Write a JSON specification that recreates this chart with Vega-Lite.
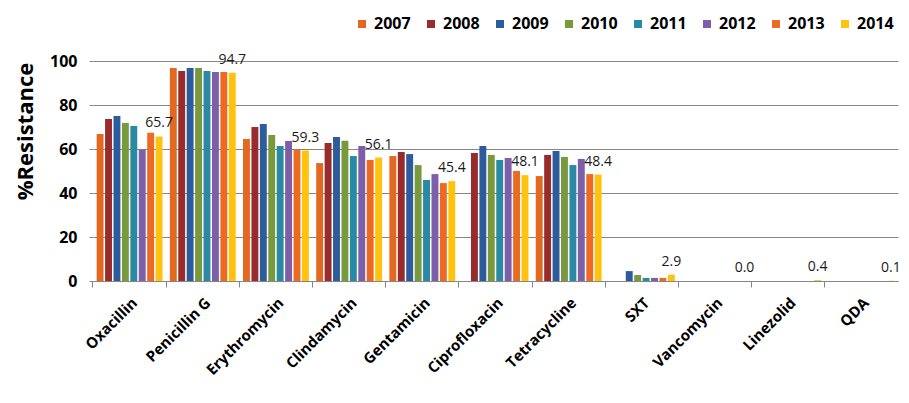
{
  "$schema": "https://vega.github.io/schema/vega-lite/v6.json",
  "width": 805,
  "height": 220,
  "autosize": {"type": "none"},
  "padding": {"left": 93, "top": 61, "right": 11, "bottom": 122},
  "background": "white",
  "config": {"font": "Open Sans", "view": {"stroke": null}},
  "data": {
    "values": [
      {"drug": "Oxacillin", "year": "2007", "value": 66.8},
      {"drug": "Oxacillin", "year": "2008", "value": 73.6},
      {"drug": "Oxacillin", "year": "2009", "value": 75.0},
      {"drug": "Oxacillin", "year": "2010", "value": 71.8},
      {"drug": "Oxacillin", "year": "2011", "value": 70.5},
      {"drug": "Oxacillin", "year": "2012", "value": 59.8},
      {"drug": "Oxacillin", "year": "2013", "value": 67.4},
      {"drug": "Oxacillin", "year": "2014", "value": 65.7},
      {"drug": "Penicillin G", "year": "2007", "value": 96.8},
      {"drug": "Penicillin G", "year": "2008", "value": 95.5},
      {"drug": "Penicillin G", "year": "2009", "value": 96.8},
      {"drug": "Penicillin G", "year": "2010", "value": 96.8},
      {"drug": "Penicillin G", "year": "2011", "value": 95.5},
      {"drug": "Penicillin G", "year": "2012", "value": 95.0},
      {"drug": "Penicillin G", "year": "2013", "value": 95.0},
      {"drug": "Penicillin G", "year": "2014", "value": 94.7},
      {"drug": "Erythromycin", "year": "2007", "value": 64.5},
      {"drug": "Erythromycin", "year": "2008", "value": 70.0},
      {"drug": "Erythromycin", "year": "2009", "value": 71.4},
      {"drug": "Erythromycin", "year": "2010", "value": 66.4},
      {"drug": "Erythromycin", "year": "2011", "value": 61.4},
      {"drug": "Erythromycin", "year": "2012", "value": 63.6},
      {"drug": "Erythromycin", "year": "2013", "value": 59.8},
      {"drug": "Erythromycin", "year": "2014", "value": 59.3},
      {"drug": "Clindamycin", "year": "2007", "value": 53.6},
      {"drug": "Clindamycin", "year": "2008", "value": 62.7},
      {"drug": "Clindamycin", "year": "2009", "value": 65.5},
      {"drug": "Clindamycin", "year": "2010", "value": 63.8},
      {"drug": "Clindamycin", "year": "2011", "value": 56.8},
      {"drug": "Clindamycin", "year": "2012", "value": 61.4},
      {"drug": "Clindamycin", "year": "2013", "value": 55.0},
      {"drug": "Clindamycin", "year": "2014", "value": 56.1},
      {"drug": "Gentamicin", "year": "2007", "value": 56.8},
      {"drug": "Gentamicin", "year": "2008", "value": 58.6},
      {"drug": "Gentamicin", "year": "2009", "value": 57.7},
      {"drug": "Gentamicin", "year": "2010", "value": 52.7},
      {"drug": "Gentamicin", "year": "2011", "value": 45.9},
      {"drug": "Gentamicin", "year": "2012", "value": 48.6},
      {"drug": "Gentamicin", "year": "2013", "value": 44.5},
      {"drug": "Gentamicin", "year": "2014", "value": 45.4},
      {"drug": "Ciprofloxacin", "year": "2008", "value": 58.2},
      {"drug": "Ciprofloxacin", "year": "2009", "value": 61.4},
      {"drug": "Ciprofloxacin", "year": "2010", "value": 57.3},
      {"drug": "Ciprofloxacin", "year": "2011", "value": 55.0},
      {"drug": "Ciprofloxacin", "year": "2012", "value": 55.9},
      {"drug": "Ciprofloxacin", "year": "2013", "value": 50.0},
      {"drug": "Ciprofloxacin", "year": "2014", "value": 48.1},
      {"drug": "Tetracycline", "year": "2007", "value": 47.7},
      {"drug": "Tetracycline", "year": "2008", "value": 57.3},
      {"drug": "Tetracycline", "year": "2009", "value": 59.1},
      {"drug": "Tetracycline", "year": "2010", "value": 56.4},
      {"drug": "Tetracycline", "year": "2011", "value": 52.7},
      {"drug": "Tetracycline", "year": "2012", "value": 55.5},
      {"drug": "Tetracycline", "year": "2013", "value": 48.6},
      {"drug": "Tetracycline", "year": "2014", "value": 48.4},
      {"drug": "SXT", "year": "2009", "value": 4.5},
      {"drug": "SXT", "year": "2010", "value": 2.7},
      {"drug": "SXT", "year": "2011", "value": 1.4},
      {"drug": "SXT", "year": "2012", "value": 1.4},
      {"drug": "SXT", "year": "2013", "value": 1.4},
      {"drug": "SXT", "year": "2014", "value": 2.9},
      {"drug": "Vancomycin", "year": "2014", "value": 0.0},
      {"drug": "Linezolid", "year": "2014", "value": 0.4},
      {"drug": "QDA", "year": "2014", "value": 0.1}
    ]
  },
  "encoding": {
    "x": {
      "field": "drug",
      "type": "nominal",
      "sort": ["Oxacillin", "Penicillin G", "Erythromycin", "Clindamycin", "Gentamicin", "Ciprofloxacin", "Tetracycline", "SXT", "Vancomycin", "Linezolid", "QDA"],
      "scale": {"paddingInner": 0.1, "paddingOuter": 0.05},
      "axis": {
        "title": null,
        "labelAngle": -45,
        "labelAlign": "right",
        "labelBaseline": "middle",
        "labelFontSize": 15,
        "labelFontWeight": "bold",
        "labelColor": "#000000",
        "labelPadding": 13,
        "domainColor": "#868686",
        "tickColor": "#868686",
        "tickSize": 6,
        "bandPosition": -0.0556,
        "labelOffset": 5
      }
    },
    "xOffset": {"field": "year", "type": "nominal", "scale": {"paddingInner": 0.18}},
    "y": {
      "field": "value",
      "type": "quantitative",
      "scale": {"domain": [0, 100]},
      "axis": {
        "values": [0, 20, 40, 60, 80, 100],
        "grid": true,
        "gridColor": "#868686",
        "domain": false,
        "tickColor": "#868686",
        "tickSize": 4,
        "labelFontSize": 16,
        "labelFontWeight": "bold",
        "labelColor": "#000000",
        "labelPadding": 12,
        "title": "%Resistance",
        "titleFontSize": 22,
        "titleFontWeight": "bold",
        "titleColor": "#000000",
        "titleAngle": -90,
        "titleX": -68,
        "titleY": 70,
        "titleAlign": "center",
        "titleBaseline": "middle"
      }
    }
  },
  "layer": [
    {
      "mark": {"type": "bar"},
      "encoding": {
        "color": {
          "field": "year",
          "type": "nominal",
          "scale": {
            "domain": ["2007", "2008", "2009", "2010", "2011", "2012", "2013", "2014"],
            "range": ["#E2691F", "#982B2B", "#2D5C9C", "#789A3C", "#2A89A3", "#7D5EA9", "#EC6A22", "#FFC20E"]
          },
          "legend": {
            "orient": "none",
            "legendX": 261,
            "legendY": -45,
            "direction": "horizontal",
            "columns": 8,
            "title": null,
            "symbolType": "square",
            "symbolSize": 64,
            "symbolStrokeWidth": 0,
            "labelFontSize": 16,
            "labelFontWeight": "bold",
            "labelColor": "#000000",
            "labelOffset": 4,
            "columnPadding": 12
          }
        }
      }
    },
    {
      "transform": [{"filter": "datum.year == '2014'"}],
      "mark": {"type": "text", "baseline": "bottom", "dy": -6, "fontSize": 14, "color": "#1a1a1a"},
      "encoding": {"text": {"field": "value", "type": "quantitative", "format": ".1f"}}
    }
  ]
}
